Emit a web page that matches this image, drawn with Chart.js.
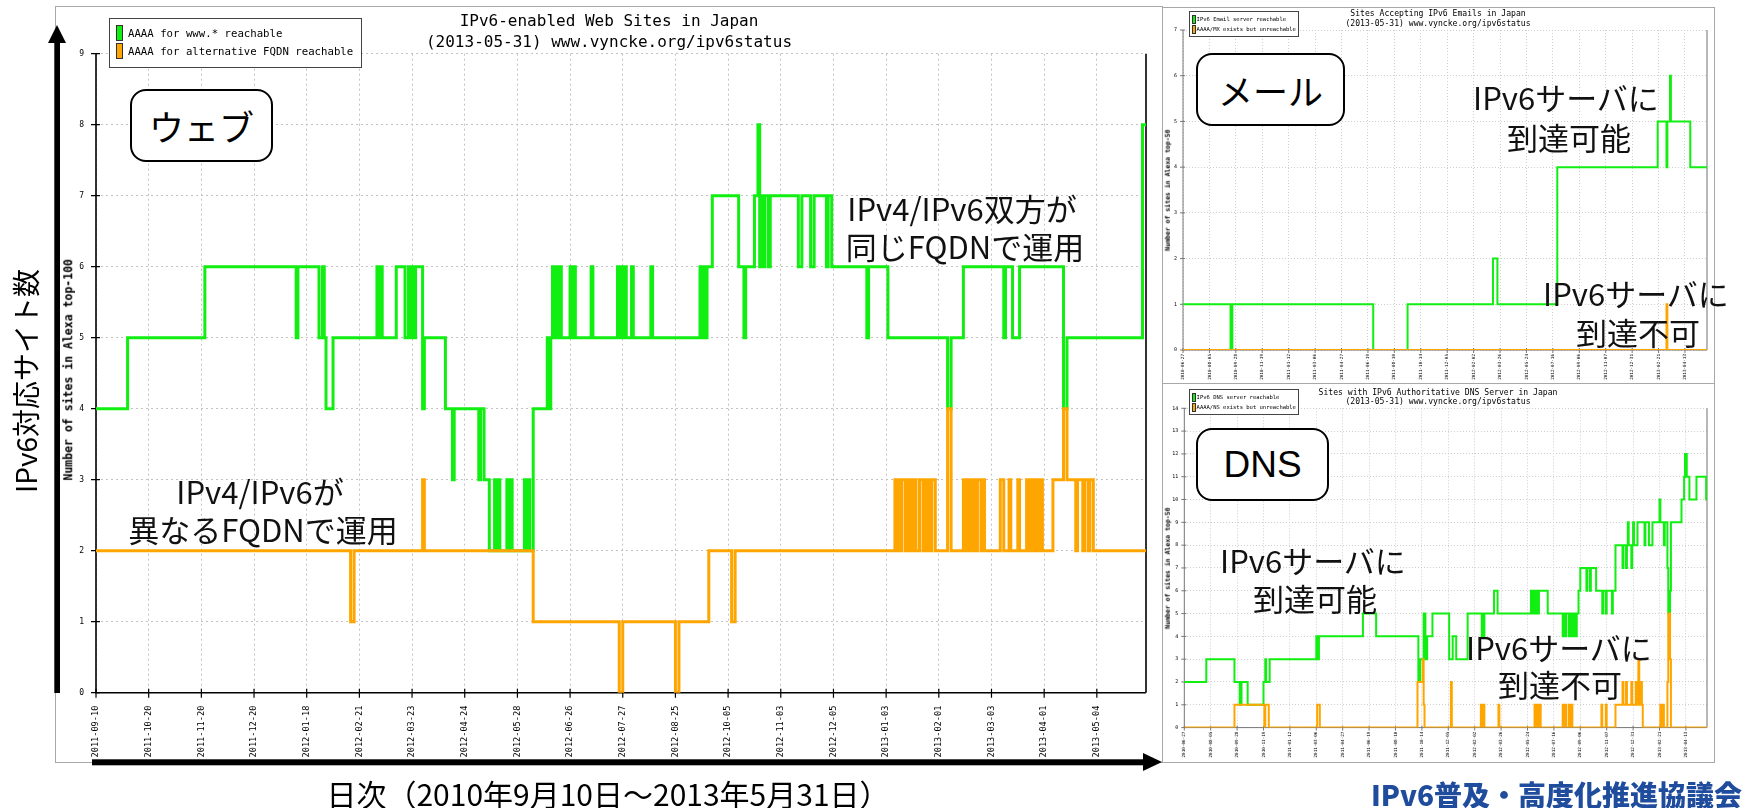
<!DOCTYPE html>
<html><head><meta charset="utf-8">
<script src="https://cdn.jsdelivr.net/npm/chart.js@4"></script>
<style>
html,body{margin:0;padding:0;background:#fff;}
body{width:1745px;height:808px;position:relative;overflow:hidden;font-family:"Noto Sans CJK JP",sans-serif;color:#000;}
canvas{position:absolute;}
.frame{position:absolute;box-sizing:border-box;border:1px solid #a8a8a8;}
.rbox{position:absolute;box-sizing:border-box;border:2.5px solid #000;border-radius:16px;background:#fff;display:flex;align-items:center;justify-content:center;}
.leg{position:absolute;box-sizing:border-box;border:1px solid #444;background:#fff;}
.sw{position:absolute;box-sizing:border-box;border:1px solid #333;}
</style></head>
<body>
<canvas id="web" width="1107" height="756" style="left:55px;top:6px;width:1107px;height:756px"></canvas>
<canvas id="mail" width="552" height="376" style="left:1162px;top:7px;width:552px;height:376px"></canvas>
<canvas id="dns" width="552" height="378" style="left:1162px;top:384px;width:552px;height:378px"></canvas>

<div class="frame" style="left:55px;top:6px;width:1108px;height:757px"></div>
<div class="frame" style="left:1162px;top:7px;width:553px;height:377px"></div>
<div class="frame" style="left:1162px;top:383px;width:553px;height:380px"></div>

<div class="leg" style="left:109px;top:18px;width:253px;height:50px"></div>
<div class="sw" style="left:116px;top:25px;width:7px;height:16px;background:#11ee11"></div>
<div class="sw" style="left:116px;top:43px;width:7px;height:16px;background:#ffa500"></div>

<div class="leg" style="left:1189px;top:11px;width:110px;height:26px"></div>
<div class="sw" style="left:1192px;top:15px;width:3.5px;height:8.5px;background:#11ee11;border-width:0.6px"></div>
<div class="sw" style="left:1192px;top:25px;width:3.5px;height:8.5px;background:#ffa500;border-width:0.6px"></div>

<div class="leg" style="left:1189px;top:389px;width:110px;height:26px"></div>
<div class="sw" style="left:1192px;top:393px;width:3.5px;height:8.5px;background:#11ee11;border-width:0.6px"></div>
<div class="sw" style="left:1192px;top:403px;width:3.5px;height:8.5px;background:#ffa500;border-width:0.6px"></div>

<div class="rbox" style="left:130px;top:89px;width:143px;height:73px;font-size:35px">ウェブ</div>
<div class="rbox" style="left:1196px;top:53px;width:149px;height:73px;font-size:35px">メール</div>
<div class="rbox" style="left:1196px;top:428px;width:133px;height:73px;font-size:37px;font-family:'Liberation Sans',Arial,sans-serif">DNS</div>

<svg style="position:absolute;left:0;top:0" width="1745" height="808">
  <rect x="54.3" y="42" width="5.7" height="651" fill="#000"/>
  <polygon points="57,25 66,43 48,43" fill="#000"/>
  <rect x="92" y="759.3" width="1052" height="6" fill="#000"/>
  <polygon points="1143,753 1162,762 1143,771" fill="#000"/>
</svg>

<script>
// ---------- data (change points: [sample index, value]) ----------
const webDates = ['2011-09-10','2011-10-20','2011-11-20','2011-12-20','2012-01-18','2012-02-21','2012-03-23','2012-04-24','2012-05-28','2012-06-26','2012-07-27','2012-08-25','2012-10-05','2012-11-03','2012-12-05','2013-01-03','2013-02-01','2013-03-03','2013-04-01','2013-05-04'];
const panelDates = ['2010-06-27','2010-08-05','2010-09-28','2010-11-19','2011-01-12','2011-03-06','2011-04-27','2011-06-19','2011-08-10','2011-10-14','2011-12-05','2012-02-02','2012-03-26','2012-05-24','2012-07-16','2012-09-06','2012-11-07','2012-12-31','2013-02-21','2013-04-13'];

const webReachSteps = [[0,4],[18,5],[62,6],[114,5],[115,6],[127,5],[129,6],[130,5],[131,4],[135,5],[160,6],[161,5],[162,6],[163,5],[171,6],[176,5],[178,6],[179,5],[180,6],[181,5],[182,6],[186,4],[187,5],[199,4],[203,3],[204,4],[218,3],[219,4],[221,3],[224,2],[227,3],[228,2],[229,3],[230,2],[234,3],[235,2],[236,3],[237,2],[244,3],[245,2],[246,3],[247,2],[249,4],[257,5],[258,4],[259,5],[260,6],[261,5],[262,6],[263,5],[264,6],[265,5],[270,6],[271,5],[272,6],[273,5],[282,6],[283,5],[297,6],[298,5],[299,6],[300,5],[301,6],[302,5],[305,6],[306,5],[316,6],[317,5],[344,6],[345,5],[346,6],[347,5],[348,6],[351,7],[366,6],[369,5],[370,6],[375,7],[377,8],[378,6],[379,7],[380,6],[381,7],[383,6],[384,7],[400,6],[402,7],[407,6],[409,7],[416,6],[417,7],[419,6],[439,5],[440,6],[451,5],[485,4],[487,5],[494,6],[517,5],[518,6],[522,5],[526,6],[551,4],[553,5],[596,8],[598,8]];
const webAltSteps = [[0,2],[145,1],[147,2],[186,3],[187,2],[249,1],[298,0],[300,1],[330,0],[332,1],[349,2],[362,1],[364,2],[455,3],[456,2],[457,3],[458,2],[459,3],[461,2],[462,3],[463,2],[464,3],[465,2],[466,3],[467,2],[469,3],[471,2],[472,3],[473,2],[474,3],[475,2],[476,3],[478,2],[485,4],[487,2],[494,3],[495,2],[496,3],[497,2],[498,3],[499,2],[500,3],[501,2],[502,3],[504,2],[505,3],[506,2],[515,3],[517,2],[520,3],[521,2],[525,3],[526,2],[530,3],[531,2],[532,3],[533,2],[534,3],[535,2],[536,3],[537,2],[538,3],[539,2],[545,3],[551,4],[553,3],[558,2],[559,3],[562,2],[563,3],[565,2],[566,3],[568,2],[598,2]];

const mailOkSteps = [[0,1],[54,0],[56,1],[216,0],[255,1],[352,2],[357,1],[425,4],[539,5],[549,4],[550,5],[553,6],[554,5],[576,4],[595,4]];
const mailFailSteps = [[0,0],[549,1],[550,0],[595,0]];

const dnsOkSteps = [[0,2],[25,3],[57,2],[63,1],[65,2],[72,1],[90,2],[92,3],[93,2],[97,3],[150,4],[152,3],[153,4],[203,5],[218,4],[266,2],[268,3],[272,5],[274,3],[276,4],[282,5],[301,3],[305,4],[309,3],[322,5],[338,4],[339,5],[340,4],[341,5],[352,6],[356,5],[394,6],[396,5],[397,6],[399,5],[400,6],[402,5],[403,6],[413,5],[430,4],[431,5],[433,4],[434,5],[437,4],[439,5],[441,4],[442,5],[444,4],[446,5],[448,6],[450,7],[457,6],[458,7],[461,6],[462,7],[468,6],[475,5],[476,6],[479,5],[480,6],[486,5],[487,6],[490,8],[498,7],[499,8],[502,7],[503,8],[504,9],[505,8],[508,7],[509,8],[510,9],[511,8],[515,9],[523,8],[524,9],[528,8],[532,9],[540,10],[541,9],[545,8],[546,9],[549,7],[550,5],[552,6],[553,9],[565,10],[568,11],[569,12],[571,11],[574,10],[582,11],[593,10],[594,10]];
const dnsFailSteps = [[0,0],[57,1],[91,0],[92,1],[96,0],[151,1],[154,0],[265,2],[271,3],[272,1],[273,0],[303,2],[304,0],[337,1],[338,0],[340,1],[341,0],[357,1],[358,0],[398,1],[399,0],[401,1],[402,0],[404,1],[405,0],[430,1],[431,0],[433,1],[434,0],[437,1],[438,0],[440,1],[441,0],[474,1],[475,0],[479,1],[480,0],[490,1],[498,2],[499,1],[502,2],[503,1],[508,2],[509,1],[513,2],[514,1],[516,3],[517,1],[519,2],[520,1],[521,0],[541,1],[542,0],[544,1],[545,0],[549,2],[550,5],[552,3],[553,0],[594,0]];

// ---------- styling ----------
const GREEN = '#11ee11', ORANGE = '#ffa500', MONO = '"DejaVu Sans Mono", monospace';
const pts = arr => arr.map(([x, y]) => ({x, y}));

const axesFrame = {
  id: 'axesFrame',
  beforeDatasetsDraw(chart, args, o) {
    const {ctx, chartArea: a, scales: {x, y}} = chart;
    ctx.save();
    ctx.setLineDash([]);
    ctx.strokeStyle = o.tickColor; ctx.lineWidth = o.tickWidth;
    ctx.beginPath();
    y.ticks.forEach(t => { const py = y.getPixelForValue(t.value); ctx.moveTo(a.left - o.tl, py); ctx.lineTo(a.left + o.tr, py); });
    x.ticks.forEach(t => { const px = x.getPixelForValue(t.value); ctx.moveTo(px, a.bottom - o.tr); ctx.lineTo(px, a.bottom + o.tl); });
    ctx.stroke();
    ctx.lineWidth = o.axisWidth; ctx.strokeStyle = o.axisColor;
    ctx.beginPath(); ctx.moveTo(a.left, a.top); ctx.lineTo(a.left, a.bottom); ctx.lineTo(a.right, a.bottom); ctx.stroke();
    ctx.lineWidth = o.rightWidth; ctx.strokeStyle = o.rightColor;
    ctx.beginPath(); ctx.moveTo(a.right, a.top); ctx.lineTo(a.right, a.bottom); ctx.stroke();
    ctx.restore();
  }
};

function build(id, o) {
  return new Chart(document.getElementById(id), {
    type: 'line',
    data: { datasets: [
      { label: o.failLabel, data: pts(o.fail), borderColor: ORANGE, borderWidth: o.lw, stepped: true, pointRadius: 0, fill: false, order: 0, borderJoinStyle: 'miter' },
      { label: o.okLabel, data: pts(o.ok), borderColor: GREEN, borderWidth: o.lw, stepped: true, pointRadius: 0, fill: false, order: 1, borderJoinStyle: 'miter' }
    ]},
    plugins: [axesFrame],
    options: {
      responsive: false, animation: false, events: [],
      layout: { padding: { left: 0, right: o.padR, top: o.padT, bottom: 0 } },
      plugins: { legend: { display: false }, tooltip: { enabled: false }, axesFrame: o.frame },
      scales: {
        x: {
          type: 'linear', min: 0, max: o.xMax,
          afterBuildTicks: s => { s.ticks = o.dates.map((d, i) => ({ value: i * 30 })); },
          ticks: { autoSkip: false, minRotation: 90, maxRotation: 90, padding: o.xPad, color: '#000',
                   font: { family: MONO, size: o.xFont }, callback: v => o.dates[Math.round(v / 30)] },
          grid: { color: o.gridColor, lineWidth: 1, drawTicks: false, borderDash: o.dash },
          border: { display: false, dash: o.dash },
          afterFit: s => { s.height = o.xH; }
        },
        y: {
          min: 0, max: o.yMax,
          ticks: { stepSize: 1, padding: o.yPad, color: '#000', font: { family: MONO, size: o.yFont } },
          grid: { color: o.gridColor, lineWidth: 1, drawTicks: false, borderDash: o.dash },
          border: { display: false, dash: o.dash },
          afterFit: s => { s.width = o.yW; }
        }
      }
    }
  });
}

build('web', { ok: webReachSteps, fail: webAltSteps, okLabel: 'AAAA for www.* reachable', failLabel: 'AAAA for alternative FQDN reachable',
  dates: webDates, xMax: 598, yMax: 9, lw: 3, padR: 16, padT: 47.7, xH: 69.3, yW: 41, xPad: 13, yPad: 12, xFont: 8.6, yFont: 8,
  gridColor: '#c2c2c2', dash: [2, 3],
  frame: { tickColor: '#000', tickWidth: 1.2, tl: 5, tr: 4, axisColor: '#000', axisWidth: 1.6, rightColor: '#333', rightWidth: 2 } });

build('mail', { ok: mailOkSteps, fail: mailFailSteps, okLabel: 'IPv6 Email server reachable', failLabel: 'AAAA/MX exists but unreachable',
  dates: panelDates, xMax: 595, yMax: 7, lw: 2, padR: 7, padT: 23, xH: 33, yW: 21, xPad: 4, yPad: 6, xFont: 4.3, yFont: 5,
  gridColor: '#cfcfcf', dash: [1, 2],
  frame: { tickColor: '#555', tickWidth: 0.8, tl: 3, tr: 2, axisColor: '#777', axisWidth: 1, rightColor: '#888', rightWidth: 1.2 } });

build('dns', { ok: dnsOkSteps, fail: dnsFailSteps, okLabel: 'IPv6 DNS server reachable', failLabel: 'AAAA/NS exists but unreachable',
  dates: panelDates, xMax: 594, yMax: 14, lw: 2, padR: 7, padT: 24.3, xH: 34.4, yW: 22.3, xPad: 4, yPad: 6, xFont: 4.3, yFont: 5,
  gridColor: '#cfcfcf', dash: [1, 2],
  frame: { tickColor: '#555', tickWidth: 0.8, tl: 3, tr: 2, axisColor: '#777', axisWidth: 1, rightColor: '#888', rightWidth: 1.2 } });

// ---------- text overlays ----------
function put(str, css) {
  const d = document.createElement('div');
  d.textContent = str;
  Object.assign(d.style, { position: 'absolute', whiteSpace: 'pre' }, css);
  document.body.appendChild(d);
  return d;
}
function center(str, cx, cy, size, extra) {
  return put(str, Object.assign({ left: (cx - 400) + 'px', top: (cy - size / 2) + 'px', width: '800px', textAlign: 'center',
    fontSize: size + 'px', lineHeight: size + 'px' }, extra || {}));
}
function leftAt(str, x, cy, size, extra) {
  return put(str, Object.assign({ left: x + 'px', top: (cy - size / 2) + 'px', fontSize: size + 'px', lineHeight: size + 'px' }, extra || {}));
}
const mono = { fontFamily: MONO };
const rot = { transform: 'rotate(-90deg)', transformOrigin: '50% 50%' };

// main chart texts
center('IPv6-enabled Web Sites in Japan', 609, 21, 16, mono);
center('(2013-05-31) www.vyncke.org/ipv6status', 609, 42, 16, mono);
leftAt('AAAA for www.* reachable', 128, 34.5, 10.7, mono);
leftAt('AAAA for alternative FQDN reachable', 128, 52.5, 10.7, mono);
center('Number of sites in Alexa top-100', 69, 370, 11.5, Object.assign({ fontWeight: 'bold' }, mono, rot));

// right panels texts
center('Sites Accepting IPv6 Emails in Japan', 1438, 13.3, 8.1, mono);
center('(2013-05-31) www.vyncke.org/ipv6status', 1438, 23.3, 8.1, mono);
leftAt('IPv6 Email server reachable', 1196.6, 19.5, 5.5, mono);
leftAt('AAAA/MX exists but unreachable', 1196.6, 29.5, 5.5, mono);
center('Number of sites in Alexa top-50', 1167.5, 190, 6.5, Object.assign({ fontWeight: 'bold' }, mono, rot));

center('Sites with IPv6 Authoritative DNS Server in Japan', 1438, 391.7, 8.1, mono);
center('(2013-05-31) www.vyncke.org/ipv6status', 1438, 401.3, 8.1, mono);
leftAt('IPv6 DNS server reachable', 1196.6, 397.5, 5.5, mono);
leftAt('AAAA/NS exists but unreachable', 1196.6, 407.5, 5.5, mono);
center('Number of sites in Alexa top-50', 1167.5, 568, 6.5, Object.assign({ fontWeight: 'bold' }, mono, rot));

// Japanese annotations
const jp = { color: '#111' };
center('IPv4/IPv6双方が', 962, 207, 31, jp);
center('同じFQDNで運用', 965, 245, 31, jp);
center('IPv4/IPv6が', 260, 490, 31, jp);
center('異なるFQDNで運用', 263, 528, 31, jp);
center('IPv6サーバに', 1566, 96, 31, jp);
center('到達可能', 1569, 136, 31, jp);
center('IPv6サーバに', 1636, 292, 31, jp);
center('到達不可', 1638, 331, 31, jp);
center('IPv6サーバに', 1313, 559, 31, jp);
center('到達可能', 1315, 597, 31, jp);
center('IPv6サーバに', 1559, 646, 31, jp);
center('到達不可', 1560, 683, 31, jp);

center('IPv6対応サイト数', 24.5, 381, 28, rot);
center('日次（2010年9月10日～2013年5月31日）', 608, 793, 30);
put('IPv6普及・高度化推進協議会', { left: '1300px', width: '442px', textAlign: 'right', top: '780px', fontSize: '28px', lineHeight: '28px',
  fontWeight: '900', color: '#1f4c9c' });
</script>
</body></html>
